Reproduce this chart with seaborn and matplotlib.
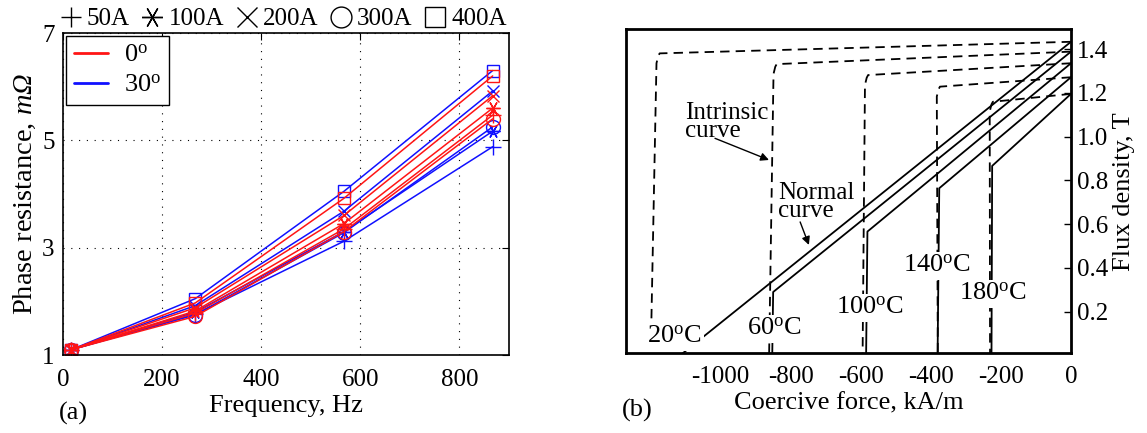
import matplotlib
matplotlib.use("Agg")
import matplotlib.pyplot as plt
from matplotlib.lines import Line2D
import seaborn as sns

# ---------------- (a) phase resistance vs. frequency ----------------
freq_hz = [17, 267, 567, 867]
currents = ["50A", "100A", "200A", "300A", "400A"]
angle_labels = ["0$^{\\rm o}$", "30$^{\\rm o}$"]

res_0deg = {
    "50A":  [1.10, 1.78, 3.35, 5.47],
    "100A": [1.10, 1.82, 3.45, 5.60],
    "200A": [1.10, 1.88, 3.60, 5.83],
    "300A": [1.10, 1.72, 3.30, 5.40],
    "400A": [1.10, 1.97, 3.92, 6.20],
}
res_30deg = {
    "50A":  [1.10, 1.76, 3.12, 4.88],
    "100A": [1.10, 1.80, 3.30, 5.17],
    "200A": [1.10, 1.92, 3.68, 5.92],
    "300A": [1.10, 1.75, 3.28, 5.25],
    "400A": [1.10, 2.05, 4.05, 6.30],
}

# ---------------- (b) demagnetisation curves ----------------
temps_c = [20, 60, 100, 140, 180]
br_t = [1.433, 1.388, 1.335, 1.271, 1.195]
intr_knee_h = [-1174, -840, -579, -374, -223]
intr_knee_b = [1.380, 1.331, 1.281, 1.228, 1.159]
intr_foot_h = [-1200, -862, -595, -380, -231]
norm_knee_h = [-1116, -850, -581, -376, -225]
norm_knee_b = [0.000, 0.290, 0.566, 0.764, 0.866]
norm_foot_h = [-1118, -853, -585, -381, -227]
label_h = [-1133, -848, -574, -384, -224]
label_b = [0.085, 0.121, 0.217, 0.409, 0.281]

# ---------------- style ----------------
sns.set_style("white", {"axes.edgecolor": "black", "text.color": "black",
                        "xtick.color": "black", "ytick.color": "black",
                        "axes.labelcolor": "black"})
plt.rcParams["font.family"] = ["Liberation Serif", "DejaVu Serif"]
plt.rcParams["mathtext.fontset"] = "custom"
plt.rcParams["mathtext.rm"] = "Liberation Serif"
plt.rcParams["mathtext.it"] = "Liberation Serif:italic"
plt.rcParams["mathtext.sf"] = "Liberation Serif:italic"
plt.rcParams["mathtext.bf"] = "Liberation Serif:bold"
plt.rcParams["axes.unicode_minus"] = False

W, H = 1147, 433
fig = plt.figure(figsize=(W / 100, H / 100), dpi=100)
FS = 18

# ---------------- panel (a) ----------------
axa = fig.add_axes([63 / W, 1 - 355 / H, (509 - 63) / W, (355 - 33) / H])
markers = {"50A": "+", "100A": (6, 2, 30), "200A": "x", "300A": "o", "400A": "s"}
msize = {"50A": 11, "100A": 10, "200A": 9, "300A": 10, "400A": 9}

for data, col in [(res_30deg, "#1010ff"), (res_0deg, "#ff1515")]:
    for cur in currents:
        sns.lineplot(x=freq_hz, y=data[cur], ax=axa, color=col, lw=1.1,
                     marker=markers[cur], ms=msize[cur], mfc="none", mec=col,
                     mew=1.0, estimator=None, sort=False)

axa.set_xlim(0, 900)
axa.set_ylim(1, 7)
axa.set_xticks([0, 200, 400, 600, 800])
axa.set_yticks([1, 3, 5, 7])
axa.grid(True, color="black", lw=0.8, ls=(0, (1, 6)))
axa.tick_params(direction="in", length=5, width=0.8, top=True, right=True,
                labelsize=FS)
axa.tick_params(axis="x", pad=10)
axa.tick_params(axis="y", pad=6)
for sp in axa.spines.values():
    sp.set_linewidth(1.2)
axa.set_xlabel("Frequency, Hz", fontsize=FS + 1, labelpad=3)
axa.set_ylabel("Phase resistance, $\\mathsf{m\\Omega}$", fontsize=FS + 2.5,
               labelpad=3)

ang_handles = [Line2D([], [], color="#ff1515", lw=2),
               Line2D([], [], color="#1010ff", lw=2)]
leg_ang = axa.legend(ang_handles, angle_labels, loc="upper left",
                     bbox_to_anchor=(0, 1), borderaxespad=0.1, fontsize=FS + 1,
                     frameon=True, fancybox=False, framealpha=1,
                     edgecolor="black", handlelength=1.3, handletextpad=0.6,
                     borderpad=0.3, labelspacing=0.25)
leg_ang.get_frame().set_linewidth(1.0)

cur_handles = [Line2D([], [], ls="none", marker=markers[c], color="black",
                      mfc="none", ms=15, mew=1.0) for c in currents]
fig.legend(cur_handles, currents, loc="center left",
           bbox_to_anchor=(58 / W, 1 - 19 / H), ncol=5, frameon=False,
           fontsize=FS, handlelength=1.0, handletextpad=0.15,
           columnspacing=0.4, borderpad=0, borderaxespad=0)

fig.text(73 / W, 1 - 413 / H, "(a)", fontsize=FS + 1, ha="center", va="center")

# ---------------- panel (b) ----------------
axb = fig.add_axes([626 / W, 1 - 353.3 / H, (1071 - 626) / W, (353.3 - 29.3) / H])
y_lo, y_hi = 0.01, 1.49
dash = (0, (5.2, 3.4))

for i in range(len(temps_c)):
    hk, bk = intr_knee_h[i], intr_knee_b[i]
    xs = [0, hk, hk - 4, hk - 9, intr_foot_h[i]]
    ys = [br_t[i], bk, bk - 0.012, bk - 0.045, y_lo - 0.05]
    sns.lineplot(x=xs, y=ys, ax=axb, color="black", lw=1.3, linestyle=dash,
                 estimator=None, sort=False)
    xs = [0, norm_knee_h[i], norm_foot_h[i]]
    ys = [br_t[i], norm_knee_b[i], y_lo - 0.05]
    sns.lineplot(x=xs, y=ys, ax=axb, color="black", lw=1.3,
                 estimator=None, sort=False)

for t, h, b in zip(temps_c, label_h, label_b):
    axb.text(h, b, f"{t}$^{{\\rm o}}$C", fontsize=FS + 1, ha="center",
             va="center", zorder=5,
             bbox=dict(fc="white", ec="none", pad=2))

axb.text(-1102, 1.158, "Intrinsic\ncurve", fontsize=FS, ha="left", va="top",
         linespacing=0.75)
axb.annotate("", xy=(-862, 0.893), xytext=(-1016, 0.992),
             arrowprops=dict(arrowstyle="-|>", color="black", lw=1.0,
                             mutation_scale=12, shrinkA=0, shrinkB=0))
axb.text(-836, 0.793, "Normal\ncurve", fontsize=FS, ha="left", va="top",
         linespacing=0.75)
axb.annotate("", xy=(-748, 0.505), xytext=(-773, 0.61),
             arrowprops=dict(arrowstyle="-|>", color="black", lw=1.0,
                             mutation_scale=12, shrinkA=0, shrinkB=0))

axb.set_xlim(-1270, 0)
axb.set_ylim(y_lo, y_hi)
axb.set_xticks([-1200, -1000, -800, -600, -400, -200, 0])
axb.set_xticklabels(["", "-1000", "-800", "-600", "-400", "-200", "0"])
axb.set_yticks([0.2, 0.4, 0.6, 0.8, 1.0, 1.2, 1.4])
axb.set_yticklabels(["0.2", "0.4", "0.6", "0.8", "1.0", "1.2", "1.4"])
axb.yaxis.tick_right()
axb.yaxis.set_label_position("right")
axb.tick_params(direction="in", length=5, width=1.0, labelsize=FS)
axb.tick_params(axis="x", pad=9)
axb.tick_params(axis="y", left=False, right=True, pad=4)
for sp in axb.spines.values():
    sp.set_linewidth(2.0)
axb.set_xlabel("Coercive force, kA/m", fontsize=FS + 1, labelpad=3)
axb.set_ylabel("Flux density, T", fontsize=FS + 1, labelpad=4, rotation=90)

fig.text(637 / W, 1 - 410 / H, "(b)", fontsize=FS + 1, ha="center", va="center")

fig.savefig("out.png", dpi=100)
